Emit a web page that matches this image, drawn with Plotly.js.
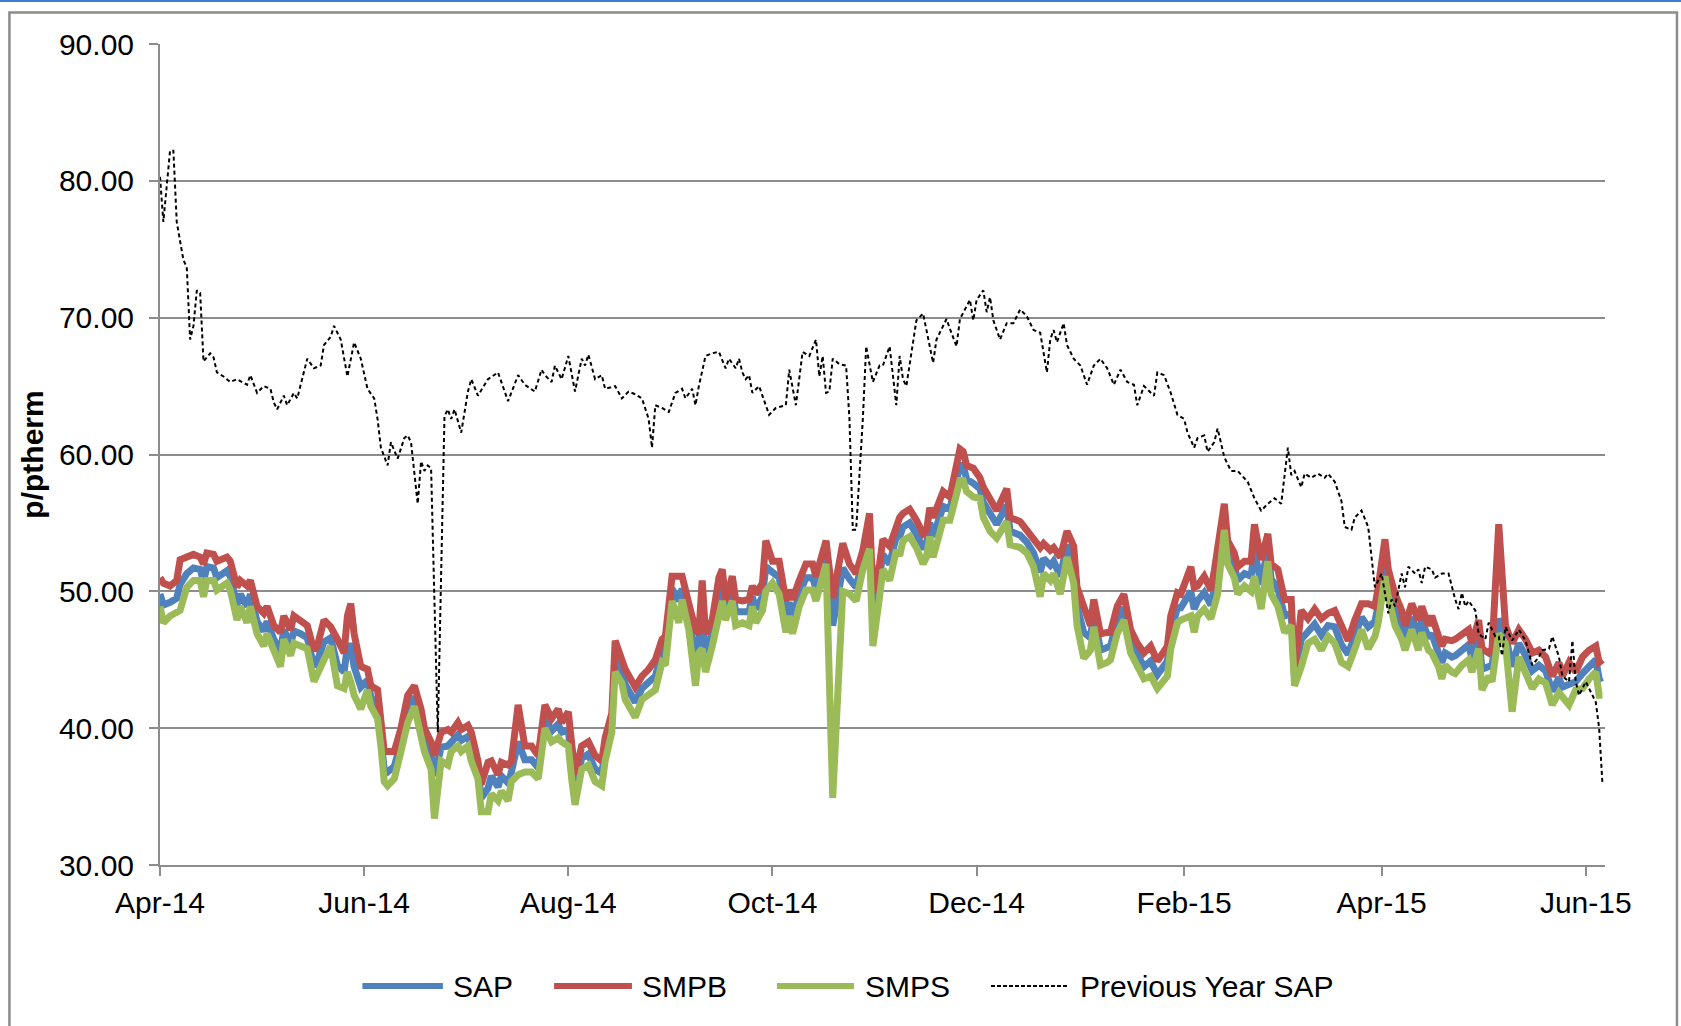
<!DOCTYPE html>
<html>
<head>
<meta charset="utf-8">
<script src="https://cdn.plot.ly/plotly-3.0.1.min.js"></script>
<style>
  html, body { margin: 0; padding: 0; background: #ffffff; }
  #chart { width: 1681px; height: 1026px; }
</style>
</head>
<body>
<div id="chart"></div>
<script>
// ---------- DATA ----------
const dates = [
'2014-04-01','2014-04-02','2014-04-04','2014-04-06','2014-04-07','2014-04-09','2014-04-11','2014-04-13','2014-04-14','2014-04-15',
'2014-04-17','2014-04-18','2014-04-21','2014-04-22','2014-04-24','2014-04-25','2014-04-27','2014-04-28','2014-04-30','2014-05-02',
'2014-05-03','2014-05-05','2014-05-07','2014-05-08','2014-05-10','2014-05-11','2014-05-13','2014-05-15','2014-05-17','2014-05-18',
'2014-05-20','2014-05-22','2014-05-24','2014-05-26','2014-05-27','2014-05-28','2014-05-29','2014-05-31','2014-06-02','2014-06-03',
'2014-06-05','2014-06-06','2014-06-07','2014-06-08','2014-06-10','2014-06-12','2014-06-13','2014-06-14','2014-06-16','2014-06-18',
'2014-06-19','2014-06-21','2014-06-22','2014-06-24','2014-06-26','2014-06-27','2014-06-29','2014-06-30','2014-07-02','2014-07-03',
'2014-07-05','2014-07-06','2014-07-08','2014-07-09','2014-07-11','2014-07-12','2014-07-14','2014-07-15','2014-07-17','2014-07-19',
'2014-07-21','2014-07-23','2014-07-25','2014-07-27','2014-07-29','2014-07-30','2014-08-01','2014-08-02','2014-08-03','2014-08-05',
'2014-08-07','2014-08-09','2014-08-11','2014-08-12','2014-08-14','2014-08-15','2014-08-17','2014-08-18','2014-08-21','2014-08-23',
'2014-08-25','2014-08-27','2014-08-29','2014-08-30','2014-09-01','2014-09-03','2014-09-04','2014-09-06','2014-09-08','2014-09-09',
'2014-09-10','2014-09-11','2014-09-13','2014-09-15','2014-09-16','2014-09-17','2014-09-19','2014-09-20','2014-09-22','2014-09-24',
'2014-09-25','2014-09-26','2014-09-28','2014-09-29','2014-10-01','2014-10-03','2014-10-05','2014-10-06','2014-10-07','2014-10-09',
'2014-10-11','2014-10-13','2014-10-14','2014-10-17','2014-10-19','2014-10-22','2014-10-24','2014-10-26','2014-10-28','2014-10-30',
'2014-10-31','2014-11-02','2014-11-03','2014-11-05','2014-11-07','2014-11-08','2014-11-09','2014-11-11','2014-11-13','2014-11-15',
'2014-11-16','2014-11-17','2014-11-18','2014-11-21','2014-11-23','2014-11-25','2014-11-26','2014-11-27','2014-11-28','2014-11-30',
'2014-12-02','2014-12-03','2014-12-05','2014-12-07','2014-12-10','2014-12-11','2014-12-14','2014-12-16','2014-12-18','2014-12-20',
'2014-12-21','2014-12-23','2014-12-24','2014-12-26','2014-12-28','2014-12-30','2014-12-31','2015-01-02','2015-01-04','2015-01-05',
'2015-01-07','2015-01-09','2015-01-10','2015-01-12','2015-01-14','2015-01-16','2015-01-18','2015-01-20','2015-01-22','2015-01-24',
'2015-01-27','2015-01-28','2015-01-30','2015-01-31','2015-02-03','2015-02-04','2015-02-05','2015-02-07','2015-02-09','2015-02-10',
'2015-02-11','2015-02-13','2015-02-14','2015-02-16','2015-02-17','2015-02-19','2015-02-21','2015-02-22','2015-02-24','2015-02-26',
'2015-02-27','2015-03-01','2015-03-03','2015-03-05','2015-03-06','2015-03-08','2015-03-10','2015-03-12','2015-03-14','2015-03-16',
'2015-03-18','2015-03-20','2015-03-22','2015-03-24','2015-03-26','2015-03-28','2015-03-30','2015-03-31','2015-04-02','2015-04-03',
'2015-04-05','2015-04-07','2015-04-08','2015-04-10','2015-04-12','2015-04-13','2015-04-15','2015-04-16','2015-04-18','2015-04-19',
'2015-04-20','2015-04-22','2015-04-23','2015-04-25','2015-04-27','2015-04-28','2015-04-30','2015-05-01','2015-05-03','2015-05-04',
'2015-05-06','2015-05-08','2015-05-10','2015-05-12','2015-05-14','2015-05-16','2015-05-18','2015-05-20','2015-05-22','2015-05-24',
'2015-05-25','2015-05-27','2015-05-29','2015-05-31','2015-06-02','2015-06-04','2015-06-05','2015-06-06'
];

const sap = [
49.8,49.0,49.2,49.5,50.5,51.3,51.7,51.6,50.7,51.8,
51.7,51.0,51.5,51.1,49.0,49.8,48.9,49.8,47.8,47.1,
47.8,46.5,45.6,47.2,46.1,47.1,46.9,46.6,44.5,44.9,
46.3,46.6,44.6,44.1,46.0,46.0,44.5,43.0,43.5,42.3,
41.6,39.6,37.0,36.8,37.2,39.0,40.2,41.4,42.3,40.5,
39.1,38.0,36.5,38.6,38.7,39.0,39.5,39.1,39.4,38.7,
36.9,34.9,35.6,36.5,35.7,36.5,36.0,36.8,39.0,37.7,
37.7,37.1,40.8,39.8,40.3,39.7,39.9,37.3,35.5,37.8,
38.1,37.0,36.7,38.4,40.4,45.2,44.2,43.2,41.9,42.9,
43.3,43.8,45.6,45.6,50.2,49.3,50.2,48.2,45.0,46.2,
48.0,45.5,46.9,49.8,50.5,48.6,50.2,48.5,48.5,48.5,
49.6,48.7,49.6,51.8,51.4,51.0,48.2,49.2,48.1,49.8,
51.0,51.0,50.2,52.8,47.5,51.7,50.9,50.3,52.3,54.4,
48.0,50.8,52.7,52.0,54.0,54.0,54.7,55.0,54.2,53.1,
53.5,55.0,54.0,56.2,56.0,58.1,59.2,59.2,58.2,57.9,
57.5,56.5,55.6,54.9,56.3,54.4,54.1,53.6,52.8,51.4,
52.4,51.9,52.2,51.1,53.4,51.9,48.9,47.0,46.6,48.4,
45.7,45.9,46.0,47.9,48.8,46.3,45.3,44.5,44.9,43.9,
44.9,47.0,48.8,48.8,50.0,48.7,49.3,49.9,49.0,50.2,
51.4,55.4,52.8,51.9,50.8,51.3,51.1,53.0,50.5,53.2,
50.9,50.2,48.2,48.4,43.6,46.5,47.1,47.6,46.8,47.5,
47.4,46.1,45.4,46.8,48.1,47.4,47.8,49.0,52.4,50.6,
48.6,47.5,46.6,48.1,46.8,47.9,46.6,46.9,45.7,44.8,
45.5,45.2,45.3,45.7,46.1,45.1,46.8,44.3,44.6,44.6,
48.0,46.8,44.5,46.2,45.3,44.2,44.6,44.2,42.7,43.7,
43.0,43.2,43.4,44.0,44.6,45.0,43.6,43.7
];

const smpb = [
51.0,50.6,50.4,50.8,52.3,52.5,52.7,52.5,52.0,52.8,
52.7,52.2,52.5,52.2,50.3,50.8,50.4,50.8,48.9,48.4,
48.9,47.5,47.0,48.2,47.2,48.2,47.9,47.5,45.7,46.0,
47.9,47.4,46.5,45.5,48.2,49.1,46.9,44.5,44.3,43.1,
42.8,40.4,38.3,38.3,38.3,40.0,41.1,42.4,43.1,41.4,
40.0,39.0,38.0,39.7,39.9,39.7,40.4,39.9,40.2,39.7,
37.6,35.9,37.5,37.6,36.6,37.5,37.3,37.6,41.7,38.7,
38.7,38.0,41.7,40.7,41.4,40.4,41.2,38.3,36.6,38.7,
39.0,38.0,37.6,39.3,41.1,46.4,45.2,44.3,43.0,43.8,
44.3,45.0,46.5,46.7,51.1,51.1,51.1,49.1,47.2,46.9,
50.8,46.9,47.9,51.0,51.6,49.3,51.1,49.4,49.3,49.4,
50.4,49.8,50.6,53.7,52.2,52.2,49.3,50.1,49.4,50.8,
52.0,52.0,51.1,53.7,49.5,53.5,52.0,51.3,53.0,55.7,
49.9,52.0,53.8,53.3,55.0,55.4,55.7,56.0,55.2,54.2,
54.4,56.1,55.4,57.3,56.9,59.2,60.4,60.2,59.2,59.0,
58.3,57.6,56.8,55.9,57.5,55.4,55.1,54.5,53.9,53.2,
53.5,53.0,53.2,52.5,54.4,53.3,50.3,48.9,47.5,49.4,
46.9,47.0,47.0,48.9,49.8,47.2,46.2,45.5,46.0,44.9,
46.0,48.2,49.9,49.8,51.8,50.3,50.4,51.1,50.1,51.5,
53.0,56.4,53.7,52.8,51.8,52.2,52.2,54.9,52.3,54.2,
52.0,51.6,49.4,49.4,44.1,48.6,48.0,48.7,48.0,48.4,
48.6,47.4,46.4,47.9,49.1,49.1,48.9,50.3,53.8,51.6,
49.8,48.6,47.5,49.1,47.9,48.9,47.5,48.2,46.9,46.0,
46.5,46.4,46.5,46.9,47.2,46.2,47.9,45.8,45.5,45.8,
54.9,47.5,46.2,47.2,46.5,45.5,45.7,45.2,43.8,44.8,
43.8,44.8,44.1,45.2,45.7,46.0,44.8,45.0
];

const smps = [
48.9,47.7,48.2,48.4,48.6,50.3,50.8,50.8,49.6,50.8,
50.8,50.1,50.6,50.1,47.9,48.9,47.7,48.9,46.9,46.0,
46.9,45.7,44.5,46.5,45.3,46.2,46.0,45.8,43.4,44.0,
45.0,46.0,43.1,42.9,44.1,43.4,42.4,41.4,42.8,41.6,
40.7,38.7,36.1,35.8,36.3,38.3,39.3,40.4,41.6,39.7,
38.3,37.0,33.4,37.6,37.3,38.3,38.7,38.3,38.7,37.6,
36.3,33.9,33.9,35.2,34.7,35.4,34.7,36.1,36.6,36.8,
36.8,36.3,40.0,39.0,39.3,39.0,38.7,36.3,34.4,37.0,
37.3,36.1,35.8,37.6,39.7,44.1,43.3,42.1,40.8,42.1,
42.4,42.8,44.8,44.6,49.3,47.7,49.4,47.2,43.1,45.5,
45.8,44.1,46.0,48.6,49.3,47.9,49.3,47.5,47.7,47.5,
48.9,47.7,48.6,50.0,50.6,49.8,47.0,48.2,46.9,48.9,
50.1,50.1,49.3,52.0,34.9,50.0,49.8,49.3,51.6,53.1,
46.0,49.6,51.6,50.8,53.0,52.6,53.7,54.0,53.2,52.0,
52.5,54.0,52.5,55.2,55.2,57.1,58.1,58.1,57.3,56.9,
56.8,55.4,54.4,53.9,55.1,53.4,53.2,52.8,51.8,49.6,
51.3,50.8,51.3,49.8,52.5,50.6,47.5,45.1,45.7,47.4,
44.6,44.8,45.0,46.9,47.9,45.5,44.5,43.6,43.8,42.9,
43.8,45.8,47.7,47.9,48.2,47.0,48.2,48.7,48.0,48.9,
49.8,54.5,52.0,51.0,49.8,50.4,50.0,51.1,48.7,52.2,
49.8,48.9,47.0,47.5,43.1,44.5,46.2,46.5,45.7,46.7,
46.2,44.8,44.5,45.8,47.2,45.8,46.7,47.7,51.1,49.6,
47.5,46.5,45.7,47.2,45.7,47.0,45.7,45.5,44.5,43.6,
44.6,44.1,44.0,44.6,45.0,44.1,45.8,42.8,43.8,43.4,
46.9,46.2,41.2,45.2,44.1,42.9,43.6,43.3,41.7,42.6,
42.3,41.7,42.8,42.9,43.6,44.1,42.4,42.4
];

const prevDates = [
'2014-04-01','2014-04-02','2014-04-04','2014-04-05','2014-04-06','2014-04-08','2014-04-09','2014-04-10','2014-04-11','2014-04-12',
'2014-04-13','2014-04-14','2014-04-16','2014-04-17','2014-04-18','2014-04-20','2014-04-22','2014-04-24','2014-04-27','2014-04-28',
'2014-04-30','2014-05-02','2014-05-04','2014-05-05','2014-05-06','2014-05-08','2014-05-09','2014-05-11','2014-05-12','2014-05-14',
'2014-05-15','2014-05-17','2014-05-19','2014-05-20','2014-05-22','2014-05-23','2014-05-25','2014-05-27','2014-05-28','2014-05-29',
'2014-05-31','2014-06-02','2014-06-04','2014-06-05','2014-06-06','2014-06-08','2014-06-09','2014-06-11','2014-06-13','2014-06-14',
'2014-06-15','2014-06-17','2014-06-18','2014-06-19','2014-06-20','2014-06-21','2014-06-23','2014-06-25','2014-06-26','2014-06-27',
'2014-06-28','2014-06-30','2014-07-02','2014-07-03','2014-07-05','2014-07-08','2014-07-11','2014-07-14','2014-07-17','2014-07-19',
'2014-07-22','2014-07-24','2014-07-25','2014-07-27','2014-07-28','2014-07-30','2014-08-01','2014-08-03','2014-08-05','2014-08-06',
'2014-08-07','2014-08-09','2014-08-11','2014-08-12','2014-08-15','2014-08-17','2014-08-19','2014-08-21','2014-08-23','2014-08-25',
'2014-08-26','2014-08-27','2014-08-29','2014-08-31','2014-09-02','2014-09-04','2014-09-05','2014-09-07','2014-09-08','2014-09-09',
'2014-09-11','2014-09-13','2014-09-15','2014-09-17','2014-09-18','2014-09-20','2014-09-21','2014-09-22','2014-09-23','2014-09-24',
'2014-09-25','2014-09-27','2014-09-29','2014-09-30','2014-10-02','2014-10-05','2014-10-06','2014-10-08','2014-10-10','2014-10-12',
'2014-10-14','2014-10-15','2014-10-16','2014-10-17','2014-10-18','2014-10-19','2014-10-21','2014-10-23','2014-10-24','2014-10-25',
'2014-10-26','2014-10-28','2014-10-29','2014-10-31','2014-11-02','2014-11-03','2014-11-05','2014-11-07','2014-11-08','2014-11-09',
'2014-11-10','2014-11-12','2014-11-13','2014-11-15','2014-11-16','2014-11-18','2014-11-19','2014-11-22','2014-11-23','2014-11-25',
'2014-11-26','2014-11-28','2014-11-29','2014-11-30','2014-12-01','2014-12-03','2014-12-04','2014-12-05','2014-12-06','2014-12-08',
'2014-12-10','2014-12-12','2014-12-14','2014-12-16','2014-12-18','2014-12-20','2014-12-22','2014-12-23','2014-12-24','2014-12-25',
'2014-12-27','2014-12-28','2014-12-30','2015-01-01','2015-01-03','2015-01-05','2015-01-07','2015-01-09','2015-01-11','2015-01-13',
'2015-01-15','2015-01-17','2015-01-18','2015-01-20','2015-01-22','2015-01-23','2015-01-24','2015-01-26','2015-01-28','2015-01-30',
'2015-02-01','2015-02-02','2015-02-04','2015-02-05','2015-02-07','2015-02-08','2015-02-10','2015-02-11','2015-02-13','2015-02-15',
'2015-02-17','2015-02-20','2015-02-22','2015-02-24','2015-02-26','2015-02-28','2015-03-02','2015-03-04','2015-03-05','2015-03-06',
'2015-03-08','2015-03-09','2015-03-11','2015-03-13','2015-03-15','2015-03-16','2015-03-18','2015-03-20','2015-03-21','2015-03-23',
'2015-03-24','2015-03-26','2015-03-28','2015-03-29','2015-03-30','2015-04-01','2015-04-02','2015-04-03','2015-04-04','2015-04-05',
'2015-04-07','2015-04-08','2015-04-09','2015-04-11','2015-04-12','2015-04-13','2015-04-14','2015-04-16','2015-04-17','2015-04-19',
'2015-04-21','2015-04-23','2015-04-24','2015-04-25','2015-04-26','2015-04-27','2015-04-29','2015-04-30','2015-05-02','2015-05-03',
'2015-05-05','2015-05-06','2015-05-07','2015-05-08','2015-05-10','2015-05-12','2015-05-14','2015-05-16','2015-05-18','2015-05-19',
'2015-05-21','2015-05-22','2015-05-24','2015-05-25','2015-05-27','2015-05-28','2015-05-29','2015-05-30','2015-06-01','2015-06-02',
'2015-06-04','2015-06-05','2015-06-06'
];

const prevSap = [
80.3,77.0,82.2,82.2,77.0,74.2,73.7,68.4,69.4,72.0,
71.8,66.8,67.4,67.1,66.0,65.7,65.3,65.5,65.1,65.8,
64.5,65.0,64.8,63.8,63.3,64.3,63.6,64.5,64.1,66.0,
67.0,66.3,66.5,68.0,68.6,69.4,68.4,65.7,67.0,68.2,
67.0,64.8,64.1,62.6,60.5,59.2,60.9,59.7,61.2,61.4,
60.9,56.4,59.5,58.8,59.2,59.0,39.7,62.8,63.3,62.6,
63.3,61.6,64.6,65.5,64.3,65.5,66.0,63.9,65.8,65.1,
64.6,66.2,65.8,65.3,66.5,65.5,67.2,64.6,67.0,66.5,
67.3,65.5,65.8,64.8,65.0,64.1,64.6,64.4,64.1,62.6,
60.5,63.6,63.4,63.1,64.5,64.8,64.1,64.8,63.6,65.0,
67.2,67.4,67.5,66.3,67.0,66.3,67.0,66.0,65.5,65.8,
64.5,65.0,63.6,62.9,63.4,63.6,66.2,63.6,67.5,67.2,
68.4,65.7,67.2,64.5,64.6,67.0,66.6,66.5,62.6,54.5,
54.5,62.6,67.9,65.3,66.5,66.5,67.9,63.6,67.2,65.5,
65.0,68.0,69.8,70.3,69.1,66.7,68.4,69.9,69.2,67.9,
69.9,70.9,71.3,69.8,71.3,72.0,70.4,71.5,69.8,68.4,
69.6,69.6,70.6,70.1,69.1,68.9,66.0,68.4,69.1,68.2,
69.6,68.0,67.0,66.5,65.1,66.5,67.0,66.3,65.1,66.2,
65.3,65.1,63.6,65.0,64.5,64.3,66.0,65.8,64.5,62.9,
62.6,61.6,60.5,61.2,61.4,60.2,60.9,61.9,59.8,58.8,
58.8,58.0,56.8,55.9,56.4,56.8,56.4,60.5,58.5,58.8,
57.6,58.6,58.3,58.6,58.3,58.6,58.0,56.6,54.7,54.5,
55.4,55.9,54.7,52.3,50.3,51.3,49.9,48.4,49.4,48.9,
51.3,50.3,51.8,51.3,51.6,50.6,51.8,51.6,51.0,51.3,
51.3,49.4,48.7,49.9,48.9,49.3,48.6,46.9,46.5,47.7,
46.7,46.7,45.3,47.4,46.4,47.2,46.4,44.6,45.2,45.7,
45.8,46.7,45.2,43.8,43.4,46.4,43.4,42.4,43.4,42.9,
41.9,40.0,35.9
];

const seriesNames = ['SAP', 'SMPB', 'SMPS', 'Previous Year SAP'];
const seriesColors = ['#4F81BD', '#C0504D', '#9BBB59', '#000000'];

// ---------- CHART ----------
const FONT = 'Liberation Sans, Arial, Helvetica, sans-serif';
const GRID = '#8c8c8c';
const FS = 30;

const traces = [
  { x: dates, y: sap,  name: seriesNames[0], type: 'scatter', mode: 'lines',
    line: { color: seriesColors[0], width: 7 } },
  { x: dates, y: smpb, name: seriesNames[1], type: 'scatter', mode: 'lines',
    line: { color: seriesColors[1], width: 7 } },
  { x: dates, y: smps, name: seriesNames[2], type: 'scatter', mode: 'lines',
    line: { color: seriesColors[2], width: 7 } },
  { x: prevDates, y: prevSap, name: seriesNames[3], type: 'scatter', mode: 'lines',
    line: { color: seriesColors[3], width: 2, dash: '4px,3px' } }
];

// custom legend (long line samples like the reference)
const legendY = -0.1474;
const legendItems = [
  { x0: 0.1401, x1: 0.1958, tx: 0.2014, dash: 'solid', w: 6 },
  { x0: 0.2727, x1: 0.3266, tx: 0.3322, dash: 'solid', w: 6 },
  { x0: 0.4270, x1: 0.4803, tx: 0.4865, dash: 'solid', w: 6 },
  { x0: 0.5751, x1: 0.6291, tx: 0.6353, dash: '4px,2px', w: 2 }
];

const shapes = [
  // outer frame
  { type: 'rect', xref: 'paper', yref: 'paper', x0: -0.1042, x1: 1.0498, y0: -0.25, y1: 1.0384,
    line: { color: GRID, width: 2.5 }, fillcolor: 'rgba(0,0,0,0)', layer: 'below' },
  // thin blue line at the very top
  { type: 'line', xref: 'paper', yref: 'paper', x0: -0.12, x1: 1.06, y0: 1.0524, y1: 1.0524,
    line: { color: '#3b7dd6', width: 2 } }
];
const annotations = [];
legendItems.forEach((it, i) => {
  shapes.push({ type: 'line', xref: 'paper', yref: 'paper', x0: it.x0, x1: it.x1, y0: legendY, y1: legendY,
    line: { color: seriesColors[i], width: it.w, dash: it.dash } });
  annotations.push({ xref: 'paper', yref: 'paper', x: it.tx, y: legendY, xanchor: 'left', yanchor: 'middle',
    text: seriesNames[i], showarrow: false, font: { family: FONT, size: FS, color: '#000' } });
});

const layout = {
  width: 1681, height: 1026, autosize: false,
  margin: { l: 160, r: 76, t: 44, b: 161, pad: 0 },
  paper_bgcolor: '#ffffff', plot_bgcolor: '#ffffff',
  font: { family: FONT, size: FS, color: '#000000' },
  showlegend: false,
  xaxis: {
    type: 'date',
    range: ['2014-04-01', '2015-06-06 18:00'],
    tick0: '2014-04-01', dtick: 'M2', tickformat: '%b-%y',
    showgrid: false, zeroline: false,
    showline: true, linecolor: GRID, linewidth: 2,
    ticks: 'outside', ticklen: 9, tickwidth: 2, tickcolor: GRID,
    tickfont: { family: FONT, size: FS, color: '#000' },
    ticklabelstandoff: 1,
    fixedrange: true
  },
  yaxis: {
    range: [30, 90], tick0: 30, dtick: 10, tickformat: '.2f',
    showgrid: true, gridcolor: GRID, gridwidth: 2, zeroline: false,
    showline: true, linecolor: GRID, linewidth: 2,
    ticks: 'outside', ticklen: 9, tickwidth: 2, tickcolor: GRID,
    tickfont: { family: FONT, size: FS, color: '#000' },
    ticklabelstandoff: 9,
    title: { text: 'p/ptherm', font: { family: FONT, size: FS, color: '#000', weight: 'bold' }, standoff: 6 },
    automargin: false,
    fixedrange: true
  },
  shapes: shapes,
  annotations: annotations
};

Plotly.newPlot('chart', traces, layout, { displayModeBar: false, staticPlot: true });
</script>
</body>
</html>
